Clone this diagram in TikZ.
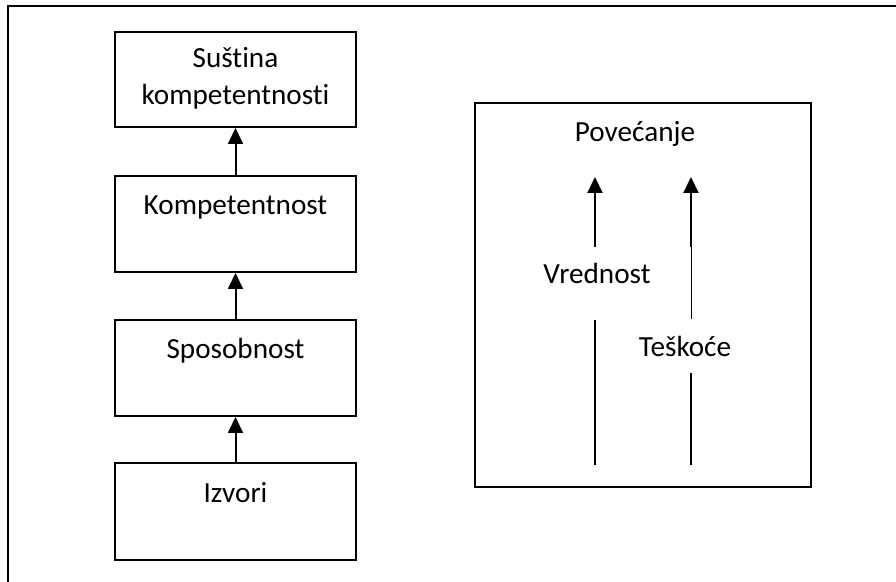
\documentclass[tikz,border=0pt]{standalone}
\usepackage{fontspec}
\setmainfont{Carlito}[Ligatures=NoCommon]
\usetikzlibrary{arrows.meta}

\tikzset{
  box/.style={draw, line width=1pt, minimum width=120.5pt, inner sep=0pt},
  word/.style={anchor=base, inner sep=0pt, align=center},
  up/.style={line width=1pt, -{Triangle[width=7.5pt,length=8pt]}},
  bar/.style={line width=1pt}
}

\begin{document}
\fontsize{14.6}{18.5}\selectfont
\begin{tikzpicture}[x=0.5pt, y=-0.5pt]
            \useasboundingbox (0,0) rectangle (896,582);
            \draw[line width=0.8pt] (896,6) -- (8,6) -- (8,582);

            \node[box, minimum height=47.5pt] (sustina) at (235.5,79.5) {};
            \node[word] (sustinaT) at (235.5,105) {Suština\\kompetentnosti};

            \node[box, minimum height=48pt] (kompetentnost) at (235.5,224) {};
            \node[word] (kompetentnostT) at (235.5,215) {Kompetentnost};

            \node[box, minimum height=48pt] (sposobnost) at (235.5,368) {};
            \node[word] (sposobnostT) at (235.5,359) {Sposobnost};

            \node[box, minimum height=48.5pt] (izvori) at (235.5,511.5) {};
            \node[word] (izvoriT) at (235.5,503) {Izvori};

            \draw[up] (izvori.north) -- (sposobnost.south);
            \draw[up] (sposobnost.north) -- (kompetentnost.south);
            \draw[up] (kompetentnost.north) -- (sustina.south);

            \node[box, minimum width=168pt, minimum height=192pt] (panel) at (643,295) {};
            \node[word] (povecanje) at (635,142) {Povećanje};
            \node[word] (vrednost) at (597,284) {Vrednost};
            \node[word] (teskoce) at (685,357) {Teškoće};

            \coordinate (v0) at (595,465);
            \coordinate (v1) at (595,320);
            \coordinate (v2) at (595,247);
            \coordinate (v3) at (595,177);
            \draw[bar] (v0) -- (v1);
            \draw[up] (v2) -- (v3);

            \coordinate (t0) at (691,465);
            \coordinate (t1) at (691,373);
            \coordinate (t2) at (691,319);
            \coordinate (t3) at (691,247);
            \coordinate (t4) at (691,177);
            \draw[bar] (t0) -- (t1);
            \draw[line width=0.5pt] (t2) -- (t3);
            \draw[up] (t3) -- (t4);
\end{tikzpicture}
\end{document}
